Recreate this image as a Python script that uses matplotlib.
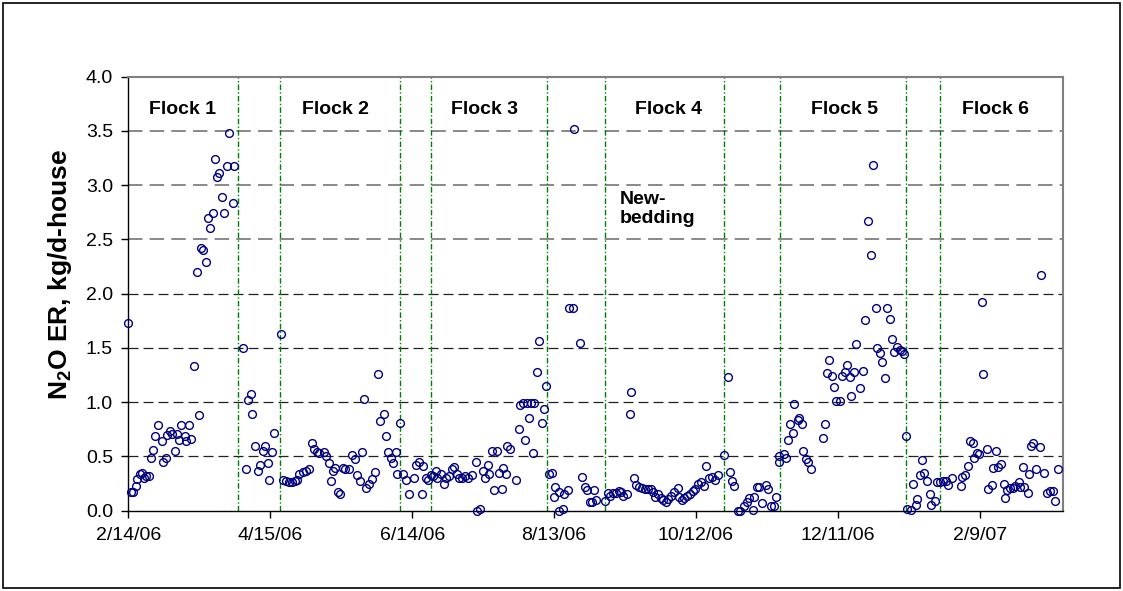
import matplotlib
matplotlib.use("Agg")
import matplotlib.pyplot as plt
from matplotlib.patches import Rectangle
from datetime import datetime, timedelta
import numpy as np

plt.rcParams['font.family'] = ['Liberation Sans', 'DejaVu Sans']
plt.rcParams['mathtext.fontset'] = 'custom'
plt.rcParams['mathtext.rm'] = 'Liberation Sans'
plt.rcParams['mathtext.bf'] = 'Liberation Sans:bold'

START = datetime(2006, 2, 14)

# days since 2/14/06 and N2O emission rate (kg/d-house)
days = [
    0.0, 1.0, 1.8, 3.1, 3.8, 4.9, 5.6, 6.8, 7.5, 8.9, 9.5, 10.6, 11.3, 12.7, 14.1, 14.5,
    15.9, 16.2, 17.6, 18.3, 19.8, 20.5, 21.6, 22.3, 24.0, 24.4, 25.8, 26.5, 27.8, 28.9,
    29.7, 30.7, 31.7, 32.8, 33.5, 34.7, 35.7, 36.8, 37.4, 38.5, 39.5, 40.6, 41.9, 42.6,
    44.1, 44.7,
    48.5, 49.8, 50.5, 51.9, 52.4, 53.6, 55.0, 55.7, 57.1, 57.6, 58.9, 59.5, 60.9, 61.6,
    64.6, 65.3, 66.6, 67.8, 69.1, 70.3, 71.4, 72.3, 73.7, 75.1, 76.5, 77.8, 78.5, 79.7,
    80.8, 82.8, 83.6, 85.0, 85.6, 86.7, 87.6, 88.8, 89.6, 90.6, 91.6, 93.5, 94.5, 95.9,
    96.6, 98.0, 98.7, 99.8, 100.5, 101.8, 102.9, 104.3, 105.7, 106.4, 107.9, 109.0,
    109.7, 111.0, 111.8, 113.1, 113.5, 114.9,
    116.3, 117.4, 118.8, 120.8, 121.5, 122.9, 124.0, 124.7, 125.7, 126.8, 127.8,
    128.9, 130.3, 130.7, 132.1, 133.5, 134.3, 135.7, 136.7, 137.7, 138.8, 139.9, 140.9,
    142.4, 143.8, 145.2, 147.1, 147.3, 148.7, 149.8, 150.8, 151.9, 152.6, 153.6, 154.6,
    156.0, 156.7, 158.0, 158.6, 159.7, 160.3, 161.4, 163.8, 165.0, 165.7, 166.8, 167.8,
    168.5, 169.6, 170.2, 171.1, 171.6, 172.8, 173.5, 174.9, 175.6, 176.6,
    178.0, 179.0, 180.0, 180.6, 181.9, 182.3, 183.8, 184.4, 186.0, 186.4, 187.9, 188.6,
    191.0, 191.9, 193.2, 194.0, 195.3, 195.9, 197.0, 197.7, 201.4,
    203.0, 203.7, 204.8, 206.2, 207.6, 208.3, 209.3, 210.7, 211.9, 212.6, 214.0, 214.7,
    216.1, 217.1, 218.5, 219.6, 221.0, 221.7, 222.7, 223.8, 225.2, 226.2, 227.3, 228.3,
    229.3, 230.7, 232.6, 233.0, 234.0, 235.0, 236.1, 237.3, 238.7, 239.7, 240.8, 242.2,
    243.5, 244.3, 245.7, 246.7, 248.1, 249.5,
    252.0, 253.5, 254.5, 255.3, 256.0, 257.7, 258.6, 260.1, 261.5, 262.5, 264.3, 264.7,
    265.9, 266.8, 268.1, 269.6, 270.6, 271.6, 273.2, 273.9,
    274.9, 275.3, 277.4, 278.0, 279.1, 279.8, 280.9, 281.6, 283.0, 283.7, 285.0, 285.4,
    286.5, 287.5, 288.6, 293.8, 294.5, 295.6, 296.3, 297.7, 298.4, 299.4, 300.8, 301.6,
    302.8, 303.7, 305.1, 305.6, 307.0, 307.6, 309.4, 310.8, 311.5, 312.7, 314.0, 314.8,
    316.0, 316.7, 317.8, 318.8, 320.0, 320.6, 322.1, 322.8, 323.9, 324.9, 326.3, 327.0,
    328.0,
    328.7, 329.2, 330.9, 331.6, 333.0, 333.6, 334.6, 335.7, 336.6, 337.5, 338.9, 339.5,
    340.9, 341.8, 343.2,
    344.6, 345.8, 346.7, 348.1, 352.0, 352.4, 353.8, 355.2, 355.9, 357.3, 357.6, 358.7,
    359.8, 361.1, 361.5, 362.9, 363.6, 365.0, 365.5, 366.9, 367.9, 368.9, 370.3, 370.7,
    371.7, 372.8, 373.9, 374.9, 376.4, 376.8, 378.2, 378.8, 380.2, 380.6, 381.6, 382.7,
    383.9, 385.3, 385.8, 387.2, 388.6, 389.7, 390.9, 391.6, 393.0,
]
n2o = [
    1.73, 0.17, 0.17, 0.23, 0.29, 0.34, 0.35, 0.30, 0.32, 0.32, 0.49, 0.56, 0.69, 0.79, 0.64, 0.45,
    0.49, 0.70, 0.73, 0.71, 0.55, 0.71, 0.65, 0.79, 0.69, 0.64, 0.79, 0.66, 1.33, 2.20,
    0.88, 2.42, 2.40, 2.29, 2.70, 2.61, 2.74, 3.24, 3.08, 3.11, 2.89, 2.74, 3.18, 3.48,
    2.84, 3.18,
    1.50, 0.38, 1.02, 1.08, 0.89, 0.60, 0.37, 0.42, 0.55, 0.60, 0.44, 0.28, 0.54, 0.72,
    1.63, 0.28, 0.27, 0.26, 0.26, 0.27, 0.28, 0.34, 0.36, 0.37, 0.38, 0.62, 0.57, 0.54,
    0.53, 0.54, 0.50, 0.44, 0.27, 0.37, 0.39, 0.17, 0.15, 0.39, 0.38, 0.38, 0.51, 0.48,
    0.33, 0.27, 0.54, 1.03, 0.21, 0.25, 0.29, 0.36, 1.26, 0.83, 0.89, 0.69,
    0.54, 0.49, 0.44, 0.54, 0.34, 0.81,
    0.34, 0.28, 0.15, 0.30, 0.42, 0.45, 0.15, 0.41, 0.30, 0.28, 0.33,
    0.32, 0.37, 0.30, 0.34, 0.25, 0.30, 0.32, 0.38, 0.40, 0.34, 0.30, 0.30,
    0.32, 0.30, 0.33, 0.45, 0.00, 0.02, 0.37, 0.30, 0.42, 0.34, 0.55, 0.19,
    0.55, 0.35, 0.20, 0.39, 0.34, 0.60, 0.57, 0.28, 0.75, 0.97, 0.99, 0.65,
    0.99, 0.85, 0.99, 0.53, 0.99, 1.28, 1.56, 0.81, 0.94, 1.15,
    0.34, 0.35, 0.13, 0.22, 0.17, 0.00, 0.02, 0.15, 0.19, 1.87, 1.87, 3.52,
    1.55, 0.31, 0.22, 0.19, 0.08, 0.08, 0.19, 0.10, 0.09,
    0.16, 0.14, 0.16, 0.16, 0.18, 0.17, 0.14, 0.15, 0.89, 1.09, 0.30, 0.24,
    0.22, 0.21, 0.20, 0.20, 0.20, 0.17, 0.13, 0.15, 0.12, 0.10, 0.08, 0.11,
    0.14, 0.17, 0.21, 0.13, 0.10, 0.12, 0.14, 0.15, 0.18, 0.20, 0.25, 0.26,
    0.23, 0.41, 0.30, 0.31, 0.28, 0.33,
    0.51, 1.23, 0.36, 0.27, 0.23, 0.00, 0.00, 0.04, 0.08, 0.12, 0.01, 0.13,
    0.22, 0.22, 0.07, 0.24, 0.20, 0.04, 0.04, 0.13,
    0.45, 0.50, 0.52, 0.49, 0.65, 0.80, 0.72, 0.98, 0.84, 0.85, 0.80, 0.55,
    0.48, 0.45, 0.38, 0.67, 0.80, 1.27, 1.39, 1.24, 1.14, 1.01, 1.01, 1.24,
    1.28, 1.34, 1.23, 1.06, 1.28, 1.54, 1.13, 1.29, 1.76, 2.67, 2.36, 3.19,
    1.87, 1.50, 1.45, 1.37, 1.22, 1.87, 1.77, 1.58, 1.46, 1.51, 1.48, 1.47,
    1.44,
    0.69, 0.02, 0.01, 0.25, 0.05, 0.11, 0.33, 0.47, 0.35, 0.27, 0.15, 0.05,
    0.09, 0.26, 0.26,
    0.27, 0.27, 0.24, 0.30, 0.23, 0.31, 0.33, 0.41, 0.64, 0.62, 0.49, 0.53,
    0.52, 1.92, 1.26, 0.57, 0.20, 0.24, 0.39, 0.55, 0.40, 0.43, 0.25, 0.12,
    0.19, 0.21, 0.21, 0.23, 0.26, 0.22, 0.40, 0.22, 0.16, 0.34, 0.60, 0.62,
    0.38, 0.59, 2.17, 0.35, 0.16, 0.18, 0.18, 0.09, 0.38,
]

# flock boundaries (days since 2/14/06)
flock_bounds = [46.5, 64.3, 115.0, 128.0, 177.0, 201.6, 252.0, 275.5, 328.6, 343.0]
flock_names = ["Flock 1", "Flock 2", "Flock 3", "Flock 4", "Flock 5", "Flock 6"]
flock_name_days = [23.1, 87.4, 150.8, 228.2, 302.8, 366.5]

tick_days = [0, 60, 120, 180, 240, 300, 360]
tick_labels = ["2/14/06", "4/15/06", "6/14/06", "8/13/06", "10/12/06", "12/11/06", "2/9/07"]
y_ticks = [0.0, 0.5, 1.0, 1.5, 2.0, 2.5, 3.0, 3.5, 4.0]


def d2dt(d):
    return START + timedelta(days=d)


W, H = 1123, 591
fig = plt.figure(figsize=(W / 100, H / 100), dpi=100)
ax = fig.add_axes([128.3 / W, 1 - 510.7 / H, (1063.3 - 128.3) / W, (510.7 - 76.7) / H])

# gridlines
for v in y_ticks[1:-1]:
    col = '#7f7f7f' if v >= 2.5 else '#222222'
    lw = 1.3 if v >= 2.5 else 0.9
    ax.axhline(v, color=col, lw=lw, dashes=(8, 4), zorder=1)

# flock boundary lines
for b in flock_bounds:
    ax.axvline(d2dt(b), color='#008000', lw=1.0, dashes=(4, 1.6, 1, 1.6), zorder=2)

ax.plot([d2dt(d) for d in days], n2o, linestyle='none', marker='o', markersize=5.6,
        markerfacecolor='none', markeredgecolor='#000080', markeredgewidth=1.0,
        zorder=5, clip_on=False)

ax.set_xlim(d2dt(0), d2dt(395.3))
ax.set_ylim(0, 4.0)
ax.set_yticks(y_ticks)
ax.set_yticklabels([f"{v:.1f}" for v in y_ticks])
ax.set_xticks([d2dt(d) for d in tick_days])
ax.set_xticklabels(tick_labels)
ax.tick_params(axis='both', direction='out', length=5, width=1, labelsize=14, colors='black')
ax.tick_params(axis='y', pad=6)
ax.tick_params(axis='x', pad=7)

for s in ['left', 'bottom']:
    ax.spines[s].set_color('black')
    ax.spines[s].set_linewidth(1.0)
for s in ['top', 'right']:
    ax.spines[s].set_color('#808080')
    ax.spines[s].set_linewidth(1.5)

for name, d in zip(flock_names, flock_name_days):
    ax.text(d2dt(d), 3.70, name, ha='center', va='center', fontsize=14, fontweight='bold')

ax.text(d2dt(207.9), 2.78, "New-\nbedding", ha='left', va='center', fontsize=14,
        fontweight='bold', linespacing=1.2)

fig.text(60 / W, 1 - 274 / H, r"N$_\mathbf{2}$O ER, kg/d-house", rotation=90,
         ha='center', va='center', fontsize=19, fontweight='bold')

fig.patches.append(Rectangle((3 / W, 3 / H), 1 - 6 / W, 1 - 6 / H, transform=fig.transFigure,
                             fill=False, edgecolor='black', lw=1.2))

fig.savefig("out.png", dpi=100)
